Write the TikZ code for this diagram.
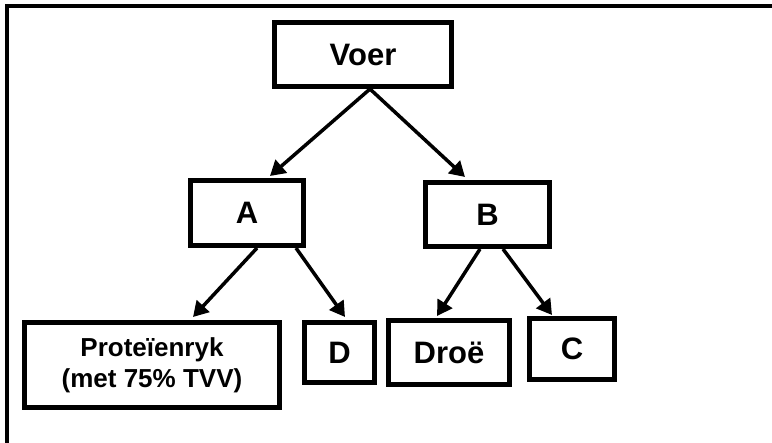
\documentclass[tikz,border=0pt]{standalone}
\usepackage{fontspec}
\setmainfont{Liberation Sans}
\usetikzlibrary{arrows.meta}
\begin{document}
\begin{tikzpicture}[x=1pt,y=-1pt,
  box/.style={draw,line width=5pt,inner sep=0pt,font=\bfseries\fontsize{31}{36}\selectfont},
  conn/.style={line width=3.5pt,-{Triangle[length=15pt,width=17pt]}}]
\useasboundingbox (0,0) rectangle (772,443);
\draw[line width=4pt] (6.5,445) -- (6.5,6) -- (774,6);
\node[box,minimum width=177pt,minimum height=64pt] (voer) at (363,54.5) {Voer};
\node[box,minimum width=113pt,minimum height=65pt] (a) at (247,213) {A};
\node[box,minimum width=124pt,minimum height=64pt] (b) at (487.5,214.5) {B};
\node[box,minimum width=255pt,minimum height=85pt,align=center,font=\bfseries\fontsize{26}{31}\selectfont] (prot) at (152,365) {Prote\"ienryk\\(met 75\% TVV)};
\node[box,minimum width=70pt,minimum height=60pt] (d) at (339.5,352.5) {D};
\node[box,minimum width=121pt,minimum height=64pt] (droe) at (449,352.5) {Dro\"e};
\node[box,minimum width=85pt,minimum height=61pt] (c) at (572,349) {C};
\draw[conn] ([xshift=7pt]voer.south) -- ([xshift=23pt,yshift=2pt]a.north);
\draw[conn] ([xshift=7pt]voer.south) -- ([xshift=-22.5pt,yshift=3pt]b.north);
\draw[conn] ([xshift=10pt]a.south) -- ([xshift=41pt,yshift=3pt]prot.north);
\draw[conn] ([xshift=49pt]a.south) -- ([xshift=5.5pt,yshift=3pt]d.north);
\draw[conn] ([xshift=-7.5pt]b.south) -- ([xshift=-12pt,yshift=2pt]droe.north);
\draw[conn] ([xshift=15.5pt]b.south) -- ([xshift=-20pt,yshift=1pt]c.north);
\end{tikzpicture}
\end{document}
